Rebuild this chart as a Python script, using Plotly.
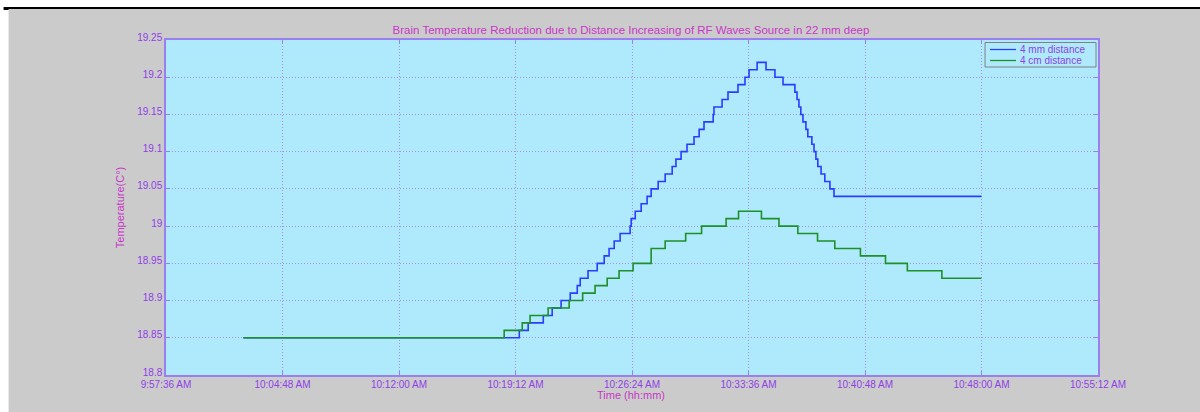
import plotly.graph_objects as go

DAY = "2013-01-01 "

# ---- data ----
blue_time = ["10:02:23", "10:19:26", "10:19:59", "10:20:55", "10:21:28", "10:22:01", "10:22:35",
             "10:23:01", "10:23:12", "10:23:41", "10:24:15", "10:24:41", "10:24:59", "10:25:18",
             "10:25:40", "10:26:17", "10:26:21", "10:26:36", "10:26:58", "10:27:20", "10:27:35",
             "10:28:01", "10:28:27", "10:28:53", "10:29:07", "10:29:26", "10:29:48", "10:30:14",
             "10:30:33", "10:30:51", "10:31:25", "10:31:28", "10:31:58", "10:32:20", "10:32:57",
             "10:33:23", "10:33:38", "10:34:08", "10:34:41", "10:35:14", "10:35:44", "10:36:28",
             "10:36:36", "10:36:43", "10:36:50", "10:36:58", "10:37:09", "10:37:16", "10:37:31",
             "10:37:39", "10:37:46", "10:37:53", "10:38:05", "10:38:19", "10:38:38", "10:38:53",
             "10:48:00"]
blue_vals = [18.85, 18.86, 18.87, 18.88, 18.89, 18.90, 18.91, 18.92, 18.93, 18.94, 18.95, 18.96,
             18.97, 18.98, 18.99, 19.00, 19.01, 19.02, 19.03, 19.04, 19.05, 19.06, 19.07, 19.08,
             19.09, 19.10, 19.11, 19.12, 19.13, 19.14, 19.15, 19.16, 19.17, 19.18, 19.19, 19.20,
             19.21, 19.22, 19.21, 19.20, 19.19, 19.18, 19.17, 19.16, 19.15, 19.14, 19.13, 19.12,
             19.11, 19.10, 19.09, 19.08, 19.07, 19.06, 19.05, 19.04, 19.04]

green_time = ["10:02:23", "10:18:30", "10:19:37", "10:20:06", "10:21:13", "10:22:31", "10:23:21",
              "10:24:07", "10:24:52", "10:25:36", "10:26:28", "10:27:35", "10:28:27", "10:29:43",
              "10:30:42", "10:32:13", "10:32:59", "10:34:24", "10:35:29", "10:36:39", "10:37:52",
              "10:38:56", "10:40:31", "10:42:04", "10:43:25", "10:45:33", "10:48:00"]
green_vals = [18.85, 18.86, 18.87, 18.88, 18.89, 18.90, 18.91, 18.92, 18.93, 18.94, 18.95, 18.97,
              18.98, 18.99, 19.00, 19.01, 19.02, 19.01, 19.00, 18.99, 18.98, 18.97, 18.96, 18.95,
              18.94, 18.93, 18.93]

series_names = ["4 mm distance", "4 cm distance"]

x_tick_times = ["09:57:36", "10:04:48", "10:12:00", "10:19:12", "10:26:24", "10:33:36",
                "10:40:48", "10:48:00", "10:55:12"]
x_tick_labels = ["9:57:36 AM", "10:04:48 AM", "10:12:00 AM", "10:19:12 AM", "10:26:24 AM",
                 "10:33:36 AM", "10:40:48 AM", "10:48:00 AM", "10:55:12 AM"]
y_tick_vals = [18.8, 18.85, 18.9, 18.95, 19.0, 19.05, 19.1, 19.15, 19.2, 19.25]
y_tick_labels = ["18.8", "18.85", "18.9", "18.95", "19", "19.05", "19.1", "19.15", "19.2", "19.25"]

# ---- styling ----
W, H = 1200, 412
L, R, T, B = 165.5, 1098, 40, 375
GREY = "#cbcbcb"
PLOT_BG = "#aeeafc"
AXIS = "#9b7ff0"
GRID = "#a890f0"
TICK_FONT = "#9040e8"
TITLE_FONT = "#c837c8"
FONT = "Liberation Sans, Arial, sans-serif"
COLORS = ["#2a3cff", "#1f8f2a"]


def px2x(px):
    return (px - L) / (R - L)


def px2y(py):
    return (B - py) / (B - T)


fig = go.Figure()
fig.add_trace(go.Scatter(
    x=[DAY + t for t in blue_time], y=blue_vals, mode="lines", name=series_names[0],
    line=dict(color=COLORS[0], width=1.6, shape="hv"), showlegend=False))
fig.add_trace(go.Scatter(
    x=[DAY + t for t in green_time], y=green_vals, mode="lines", name=series_names[1],
    line=dict(color=COLORS[1], width=1.6, shape="hv"), showlegend=False))

shapes = [
    # white strip on top and left, black rule at top
    dict(type="rect", xref="paper", yref="paper", x0=px2x(-5), x1=px2x(W + 5),
         y0=px2y(8), y1=px2y(-5), fillcolor="white", line=dict(width=0), layer="below"),
    dict(type="rect", xref="paper", yref="paper", x0=px2x(-5), x1=px2x(8),
         y0=px2y(H + 5), y1=px2y(-5), fillcolor="white", line=dict(width=0), layer="below"),
    dict(type="line", xref="paper", yref="paper", x0=px2x(3), x1=px2x(W + 5),
         y0=px2y(8), y1=px2y(8), line=dict(color="black", width=2), layer="below"),
    dict(type="line", xref="paper", yref="paper", x0=px2x(3), x1=px2x(8),
         y0=px2y(9.5), y1=px2y(9.5), line=dict(color="black", width=1), layer="below"),
    # legend box
    dict(type="rect", xref="paper", yref="paper", x0=px2x(985), x1=px2x(1096),
         y0=px2y(67), y1=px2y(42.5), fillcolor=PLOT_BG, line=dict(color="#808080", width=1),
         layer="above"),
]
annotations = [
    dict(text="Time (hh:mm)", xref="paper", yref="paper", x=px2x(631), y=px2y(395),
         xanchor="center", yanchor="middle", showarrow=False,
         font=dict(family=FONT, size=11, color=TITLE_FONT)),
]
for i, (name, col) in enumerate(zip(series_names, COLORS)):
    ypx = 49.5 + i * 11
    shapes.append(dict(type="line", xref="paper", yref="paper", x0=px2x(990), x1=px2x(1016),
                       y0=px2y(ypx), y1=px2y(ypx), line=dict(color=col, width=1.3),
                       layer="above"))
    annotations.append(dict(text=name, xref="paper", yref="paper", x=px2x(1018), y=px2y(ypx),
                            xanchor="left", yanchor="middle", showarrow=False,
                            font=dict(family=FONT, size=10, color=TICK_FONT)))

fig.update_layout(
    width=W, height=H,
    margin=dict(l=L, r=W - R, t=T, b=H - B, pad=0),
    paper_bgcolor=GREY, plot_bgcolor=PLOT_BG,
    font=dict(family=FONT, size=11, color=TICK_FONT),
    title=dict(text="Brain Temperature Reduction due to Distance Increasing of RF Waves Source in 22 mm deep",
               x=631 / W, xanchor="center",
               y=1 - 30 / H, yanchor="middle",
               font=dict(family=FONT, size=11.5, color=TITLE_FONT)),
    shapes=shapes,
    annotations=annotations,
    showlegend=False,
    xaxis=dict(
        type="date",
        range=[DAY + x_tick_times[0], DAY + x_tick_times[-1]],
        tickvals=[DAY + t for t in x_tick_times], ticktext=x_tick_labels,
        showgrid=True, gridcolor=GRID, griddash="1px,2px", gridwidth=1,
        showline=True, linecolor=AXIS, linewidth=1.5, mirror="ticks",
        ticks="inside", ticklen=4, tickcolor=AXIS,
        tickfont=dict(family=FONT, size=10, color=TICK_FONT),
        ticklabelstandoff=-1,
        zeroline=False, fixedrange=True,
    ),
    yaxis=dict(
        range=[18.8, 19.25],
        tickvals=y_tick_vals, ticktext=y_tick_labels,
        showgrid=True, gridcolor=GRID, griddash="1px,2px", gridwidth=1,
        showline=True, linecolor=AXIS, linewidth=1.5, mirror="ticks",
        ticks="inside", ticklen=4, tickcolor=AXIS,
        tickfont=dict(family=FONT, size=10, color=TICK_FONT),
        ticklabelstandoff=0, ticklabelshift=-3,
        zeroline=False, fixedrange=True,
        title=dict(text="Temperature(C°)", standoff=10,
                   font=dict(family=FONT, size=11, color=TITLE_FONT)),
    ),
)

fig.write_html("out.html", config={"displayModeBar": False},
               post_script="document.body.style.margin='0';document.body.style.padding='0';")
